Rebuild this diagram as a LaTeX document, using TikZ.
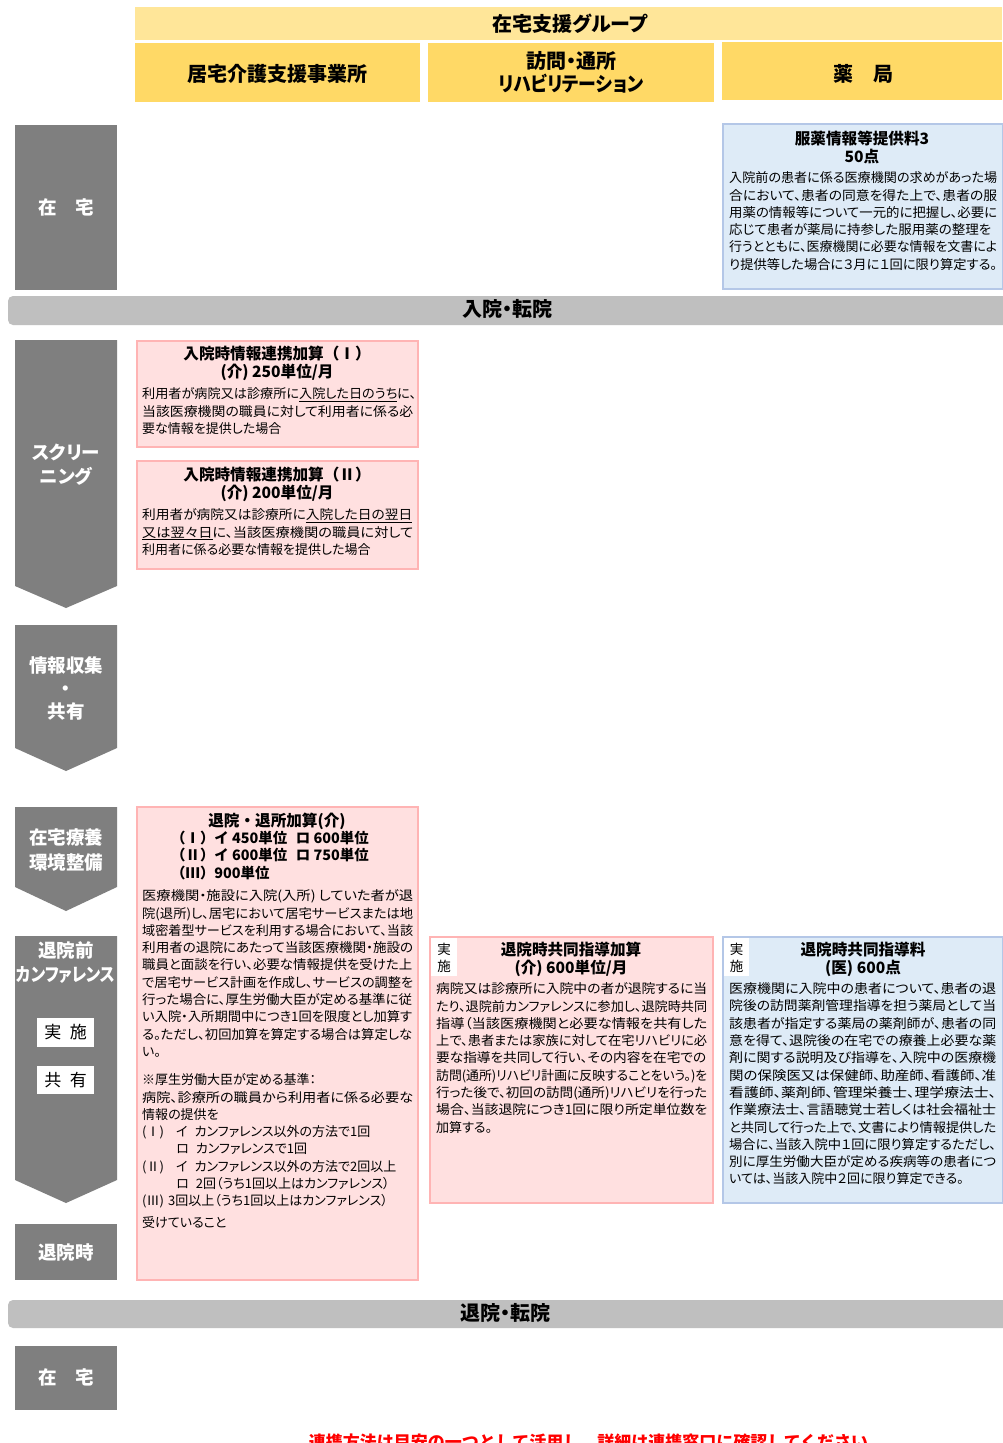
\documentclass[tikz,border=0pt]{standalone}
\usepackage{fontspec}
\setmainfont{Noto Sans CJK JP}
\newfontfamily\pfont[RawFeature=+palt]{Noto Sans CJK JP}
\newcommand{\fl}[2]{\resizebox{#1pt}{\height}{#2}}
\definecolor{ylight}{RGB}{255,230,153}
\definecolor{ydark}{RGB}{255,217,102}
\definecolor{gcol}{RGB}{127,127,127}
\definecolor{bandcol}{RGB}{191,191,191}
\definecolor{pinkfill}{RGB}{255,224,224}
\definecolor{pinkline}{RGB}{255,180,180}
\definecolor{bluefill}{RGB}{222,235,247}
\definecolor{blueline}{RGB}{180,199,231}
\tikzset{
  hdr/.style={font=\pfont\bfseries\fontsize{20}{23}\selectfont, align=center, inner sep=0},
  lbl/.style={font=\pfont\bfseries\fontsize{18.5}{24}\selectfont, text=white, align=center, inner sep=0},
  ttl/.style={font=\bfseries\fontsize{15.6}{17.3}\selectfont, align=center, inner sep=0, anchor=north},
  sttl/.style={font=\bfseries\fontsize{14.4}{17.3}\selectfont, align=left, inner sep=0, anchor=north west},
  bdy/.style={font=\pfont\fontsize{13}{17.3}\selectfont, align=left, inner sep=0, anchor=north west},
  pinkbox/.style={fill=pinkfill, draw=pinkline, line width=2pt},
  bluebox/.style={fill=bluefill, draw=blueline, line width=2pt},
  graybox/.style={fill=gcol},
  wtag/.style={fill=white},
  tagtxt/.style={font=\fontsize{13.5}{16.5}\selectfont, align=center, inner sep=0},
  ltag/.style={font=\fontsize{17}{20}\selectfont, inner sep=0}
}
\begin{document}
\begin{tikzpicture}[x=1pt,y=-1pt]
\useasboundingbox (0,0) rectangle (1002,1443);
\fill[white] (0,0) rectangle (1002,1443);

% header
\fill[ylight] (135,7) rectangle (1002,40);
\node[hdr] (grp) at (570,24) {在宅支援グループ};
\fill[ydark] (135,43) rectangle (420,102);
\fill[ydark] (428,43) rectangle (714,102);
\fill[ydark] (722,42) rectangle (1002,100);
\node[hdr] (kyotaku) at (277,74) {居宅介護支援事業所};
\node[hdr] (reha) at (571,72.5) {訪問・通所\\\fl{145}{リハビリテーション}};
\node[hdr] (yak) at (863,74) {薬\hspace{1em}局};

% left column
\fill[graybox] (15,125) rectangle (117,290);
\node[lbl] (zt1) at (66,207) {在\hspace{1em}宅};
\fill[graybox] (15,340) -- (117,340) -- (117,586) -- (66,608) -- (15,586) -- cycle;
\node[lbl] (scr) at (66,465) {スクリー\\ニング};
\fill[graybox] (15,625) -- (117,625) -- (117,748) -- (66,771) -- (15,748) -- cycle;
\node[lbl, font=\pfont\bfseries\fontsize{18.5}{23}\selectfont] (jyo) at (66,688) {情報収集\\・\\共有};
\fill[graybox] (15,807) -- (117,807) -- (117,887) -- (66,911) -- (15,887) -- cycle;
\node[lbl, font=\pfont\bfseries\fontsize{18.5}{25}\selectfont] (kan) at (66,849.5) {在宅療養\\環境整備};
\fill[graybox] (15,936) -- (117,936) -- (117,1180) -- (66,1203) -- (15,1180) -- cycle;
\node[lbl] (conf) at (66,963) {退院前\\\fl{99}{カンファレンス}};
\fill[wtag] (37,1018) rectangle (94,1047);
\node[ltag] (jisshi) at (65.5,1032.5) {実\hspace{0.5em}施};
\fill[wtag] (37,1066) rectangle (94,1094);
\node[ltag] (kyoyu) at (65.5,1080) {共\hspace{0.5em}有};
\fill[graybox] (15,1224) rectangle (117,1280);
\node[lbl] (taiin) at (66,1252) {退院時};
\fill[graybox] (15,1346) rectangle (117,1410);
\node[lbl] (zt2) at (66,1377) {在\hspace{1em}宅};

% bands
\fill[bandcol, rounded corners=5pt] (8,296) rectangle (1008,325);
\node[hdr] (nyuin) at (507,309) {入院・転院};
\fill[bandcol, rounded corners=5pt] (8,1300) rectangle (1008,1328);
\node[hdr] (taiinband) at (505,1313) {退院・転院};

% top blue box
\draw[bluebox] (723,124) rectangle (1003,289);
\node[ttl] (b1t) at (862,131.2) {服薬情報等提供料3\\50点};
\node[bdy] (b1b) at (729,171.5) {\fl{268}{入院前の患者に係る医療機関の求めがあった場}\\
\fl{268}{合において、患者の同意を得た上で、患者の服}\\
\fl{268}{用薬の情報等について一元的に把握し、必要に}\\
\fl{262}{応じて患者が薬局に持参した服用薬の整理を}\\
\fl{268}{行うとともに、医療機関に必要な情報を文書によ}\\
\fl{268}{り提供等した場合に３月に１回に限り算定する。}};

% pink box 1
\draw[pinkbox] (137,341) rectangle (418,447);
\node[ttl] (p1t) at (277,346.2) {入院時情報連携加算（Ⅰ）\\(介) 250単位/月};
\node[bdy] (p1b) at (142,387.5) {\fl{274}{利用者が病院又は診療所に\underline{入院した日のうち}に、}\\
\fl{271}{当該医療機関の職員に対して利用者に係る必}\\
要な情報を提供した場合};

% pink box 2
\draw[pinkbox] (137,461) rectangle (418,569);
\node[ttl] (p2t) at (277,467.2) {入院時情報連携加算（Ⅱ）\\(介) 200単位/月};
\node[bdy] (p2b) at (142,508.5) {\fl{270}{利用者が病院又は診療所に\underline{入院した日の翌日}}\\
\fl{271}{\underline{又は翌々日}に、当該医療機関の職員に対して}\\
利用者に係る必要な情報を提供した場合};

% pink box 3
\draw[pinkbox] (137,807) rectangle (418,1280);
\node[ttl] (p3t) at (277,813.2) {退院・退所加算(介)};
\node[sttl] (p3s) at (171,830.8) {（Ⅰ）イ 450単位\hspace{0.6em}ロ 600単位\\
（Ⅱ）イ 600単位\hspace{0.6em}ロ 750単位\\
（Ⅲ）900単位};
\node[bdy] (p3b) at (142,889.5) {\fl{271}{医療機関・施設に入院(入所) していた者が退}\\
\fl{271}{院(退所)し、居宅において居宅サービスまたは地}\\
\fl{271}{域密着型サービスを利用する場合において、当該}\\
\fl{271}{利用者の退院にあたって当該医療機関・施設の}\\
\fl{270}{職員と面談を行い、必要な情報提供を受けた上}\\
\fl{271}{で居宅サービス計画を作成し、サービスの調整を}\\
\fl{270}{行った場合に、厚生労働大臣が定める基準に従}\\
\fl{270}{い入院・入所期間中につき1回を限度とし加算す}\\
\fl{270}{る。ただし、初回加算を算定する場合は算定しな}\\
い。};
\node[bdy] (p3c) at (142,1073.5) {※厚生労働大臣が定める基準：\\
\fl{271}{病院、診療所の職員から利用者に係る必要な}\\
情報の提供を\\
\makebox[34pt][l]{(Ⅰ)}イ\hspace{7pt}カンファレンス以外の方法で1回\\
\hspace*{34pt}ロ\hspace{7pt}カンファレンスで1回\\
\makebox[34pt][l]{(Ⅱ)}イ\hspace{7pt}カンファレンス以外の方法で2回以上\\
\hspace*{34pt}ロ\hspace{7pt}2回（うち1回以上はカンファレンス）\\
\makebox[26pt][l]{(Ⅲ)}3回以上（うち1回以上はカンファレンス）};
\node[bdy] (p3d) at (142,1216.5) {受けていること};

% pink box 4
\draw[pinkbox] (430,937) rectangle (713,1203);
\fill[wtag] (431,938) rectangle (457,976);
\node[tagtxt] (t4) at (444,958) {実\\施};
\node[ttl] (p4t) at (571,942.2) {退院時共同指導加算\\(介) 600単位/月};
\node[bdy] (p4b) at (436,982.5) {\fl{271}{病院又は診療所に入院中の者が退院するに当}\\
\fl{271}{たり、退院前カンファレンスに参加し、退院時共同}\\
\fl{271}{指導（当該医療機関と必要な情報を共有した}\\
\fl{271}{上で、患者または家族に対して在宅リハビリに必}\\
\fl{270}{要な指導を共同して行い、その内容を在宅での}\\
\fl{271}{訪問(通所)リハビリ計画に反映することをいう。)を}\\
\fl{271}{行った後で、初回の訪問(通所)リハビリを行った}\\
\fl{271}{場合、当該退院につき1回に限り所定単位数を}\\
加算する。};

% blue box 5
\draw[bluebox] (723,937) rectangle (1003,1203);
\fill[wtag] (724,938) rectangle (749,976);
\node[tagtxt] (t5) at (736.5,958) {実\\施};
\node[ttl] (b5t) at (863,942.2) {退院時共同指導料\\(医) 600点};
\node[bdy] (b5b) at (729,982.5) {\fl{267}{医療機関に入院中の患者について、患者の退}\\
\fl{267}{院後の訪問薬剤管理指導を担う薬局として当}\\
\fl{267}{該患者が指定する薬局の薬剤師が、患者の同}\\
\fl{267}{意を得て、退院後の在宅での療養上必要な薬}\\
\fl{267}{剤に関する説明及び指導を、入院中の医療機}\\
\fl{267}{関の保険医又は保健師、助産師、看護師、准}\\
\fl{267}{看護師、薬剤師、管理栄養士、理学療法士、}\\
\fl{267}{作業療法士、言語聴覚士若しくは社会福祉士}\\
\fl{267}{と共同して行った上で、文書により情報提供した}\\
\fl{267}{場合に、当該入院中１回に限り算定するただし、}\\
\fl{267}{別に厚生労働大臣が定める疾病等の患者につ}\\
いては、当該入院中２回に限り算定できる。};

% footer note (cut off by page edge as in the reference)
\node[font=\bfseries\fontsize{17}{20}\selectfont, text=red, inner sep=0] (note) at (597,1442) {連携方法は目安の一つとして活用し、詳細は連携窓口に確認してください。};
\end{tikzpicture}
\end{document}
